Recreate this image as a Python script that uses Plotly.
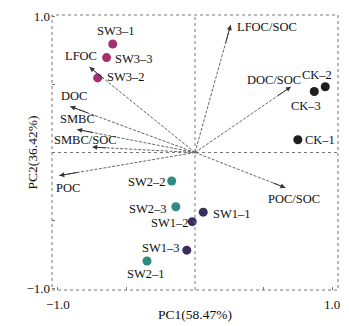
import plotly.graph_objects as go

# Samples (scores)
sample_names = ["SW3–1", "SW3–3", "SW3–2", "CK–2", "CK–3", "CK–1",
                "SW2–2", "SW2–3", "SW2–1", "SW1–1", "SW1–2", "SW1–3"]
sample_x = [-0.60, -0.645, -0.71, 0.95, 0.87, 0.75, -0.17, -0.14, -0.35, 0.06, -0.02, -0.06]
sample_y = [0.80, 0.70, 0.55, 0.485, 0.45, 0.094, -0.21, -0.40, -0.80, -0.44, -0.51, -0.72]
sample_group = ["SW3", "SW3", "SW3", "CK", "CK", "CK", "SW2", "SW2", "SW2", "SW1", "SW1", "SW1"]

# Variables (loadings)
var_names = ["LFOC", "DOC", "SMBC", "SMBC/SOC", "POC", "LFOC/SOC", "DOC/SOC", "POC/SOC"]
var_x = [-0.77, -0.91, -0.86, -0.75, -0.99, 0.26, 0.70, 0.66]
var_y = [0.63, 0.34, 0.17, 0.04, -0.17, 0.94, 0.485, -0.26]

x_title = "PC1(58.47%)"
y_title = "PC2(36.42%)"

group_colors = {"SW3": "#a52f6c", "CK": "#1e1e1e", "SW2": "#2f8a80", "SW1": "#3b2d5c"}

# label offsets in pixels (dx, dy up)
sample_off = {
    "SW3–1": (3, 13), "SW3–3": (27, -1), "SW3–2": (28, 1),
    "CK–2": (-8, 12), "CK–3": (-8, -15), "CK–1": (22, 0),
    "SW2–2": (-25, -1), "SW2–3": (-28, -2), "SW2–1": (-1, -13),
    "SW1–1": (29, -2), "SW1–2": (-22, -1), "SW1–3": (-26, 2),
}
var_off = {
    "LFOC": (-8, 11), "DOC": (4, 10), "SMBC": (0, 10), "SMBC/SOC": (-7, 7),
    "POC": (9, -12), "LFOC/SOC": (36, -2), "DOC/SOC": (-17, 7), "POC/SOC": (9, -11),
}

font_family = "Liberation Serif"
lab_size = 12.5
fig = go.Figure()

# loading lines (dashed)
for n, vx, vy in zip(var_names, var_x, var_y):
    fig.add_trace(go.Scatter(x=[0, vx], y=[0, vy], mode="lines",
                             line=dict(color="#666666", width=1, dash="3px,1.5px"),
                             hoverinfo="skip", showlegend=False))

# sample markers
for g in ["SW3", "CK", "SW2", "SW1"]:
    xs = [x for x, gg in zip(sample_x, sample_group) if gg == g]
    ys = [y for y, gg in zip(sample_y, sample_group) if gg == g]
    fig.add_trace(go.Scatter(x=xs, y=ys, mode="markers",
                             marker=dict(color=group_colors[g], size=9, line=dict(width=0)),
                             showlegend=False))

annotations = []
# arrowheads
for n, vx, vy in zip(var_names, var_x, var_y):
    annotations.append(dict(x=vx, y=vy, ax=vx * 0.85, ay=vy * 0.85, axref="x", ayref="y",
                            xref="x", yref="y", showarrow=True, arrowhead=2, arrowsize=1,
                            arrowwidth=1, arrowcolor="#333333", text="", standoff=0))
    dx, dy = var_off[n]
    annotations.append(dict(x=vx, y=vy, xref="x", yref="y", text=n, showarrow=False,
                            xshift=dx, yshift=dy,
                            font=dict(family=font_family, size=lab_size, color="#111111")))

for n, sx, sy in zip(sample_names, sample_x, sample_y):
    dx, dy = sample_off[n]
    annotations.append(dict(x=sx, y=sy, xref="x", yref="y", text=n, showarrow=False,
                            xshift=dx, yshift=dy,
                            font=dict(family=font_family, size=lab_size, color="#111111")))

shapes = [
    dict(type="rect", xref="paper", yref="paper", x0=0, y0=0, x1=1, y1=1,
         line=dict(color="#777777", width=1, dash="dot")),
    dict(type="line", xref="x", yref="paper", x0=0, x1=0, y0=0, y1=1,
         line=dict(color="#777777", width=1, dash="dot")),
    dict(type="line", xref="paper", yref="y", x0=0, x1=1, y0=0, y1=0,
         line=dict(color="#777777", width=1, dash="dot")),
]

axis_common = dict(
    tickvals=[-1, -0.5, 0.5, 1], ticktext=["−1.0", "", "", "1.0"],
    ticks="inside", ticklen=3, tickcolor="#777777", showgrid=False, zeroline=False,
    showline=False, tickfont=dict(family=font_family, size=13, color="#111111"),
)

fig.update_layout(
    width=349, height=326,
    margin=dict(l=52, r=9, t=10, b=36),
    plot_bgcolor="white", paper_bgcolor="white",
    xaxis=dict(range=[-1.043, 1.043], ticklabelstandoff=5, **axis_common),
    yaxis=dict(range=[-1.014, 1.014], ticklabelstandoff=1, **axis_common),
    annotations=annotations + [
        dict(x=0.5, y=-0.089, xref="paper", yref="paper", text=x_title, showarrow=False,
             xanchor="center", yanchor="middle",
             font=dict(family=font_family, size=13.5, color="#111111")),
        dict(x=0, y=0.5, xref="paper", yref="paper", text=y_title, showarrow=False,
             textangle=-90, xanchor="center", yanchor="middle", xshift=-20,
             font=dict(family=font_family, size=13.5, color="#111111")),
    ],
    shapes=shapes,
    font=dict(family=font_family),
)

fig.write_html("out.html")
